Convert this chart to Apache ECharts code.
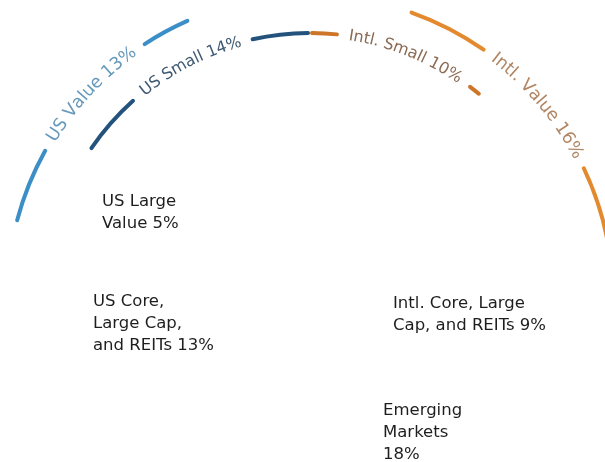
<!DOCTYPE html>
<html>
<head>
<meta charset="utf-8">
<script src="https://cdn.jsdelivr.net/npm/echarts@6/dist/echarts.min.js"></script>
<style>
  html, body { margin: 0; background: #fff; }
  #main { width: 605px; height: 462px; }
</style>
</head>
<body>
<div id="main"></div>
<script>
// outer ring segments, % of portfolio
const ringNames = ['US Value', 'US Small', 'Intl. Small', 'Intl. Value'];
const ringValues = [13, 14, 10, 16];
// holdings written as plain labels inside the ring
const coreNames = ['US Large\nValue', 'US Core,\nLarge Cap,\nand REITs', 'Intl. Core, Large\nCap, and REITs', 'Emerging\nMarkets'];
const coreValues = [5, 13, 9, 18];

// layout / style
const CX = 310, CY = 298;
const DEG_PER_PCT = 4;
const FONT = '"DejaVu Sans"';
const rings = [
  { r: 303, start: 165.5, textAt: 137, line: '#3b8ec6', text: '#6699bb', size: 17.5 },
  { r: 265, start: 146, textAt: 117.2, line: '#23527c', text: '#405a74', size: 16 },
  { r: 265, start: 90, textAt: 68.5, line: '#cd7529', text: '#8c6b53', size: 16 },
  { r: 303, start: 70.8, textAt: 40.2, line: '#e38a2e', text: '#b08664', size: 17.5 }
];
const corePos = [[102, 191], [93, 291], [393, 293], [383, 400]];
const coreSep = [' ', ' ', ' ', '\n'];

const ctx = document.createElement('canvas').getContext('2d');
function charWidths(str, size) {
  ctx.font = size + 'px ' + FONT;
  return str.split('').map(c => ctx.measureText(c).width);
}
const toDeg = (px, r) => px / r * 180 / Math.PI;
const clear = 'rgba(0,0,0,0)';

let series = [];
ringNames.forEach((name, i) => {
  let g = rings[i];
  let text = name + ' ' + ringValues[i] + '%';
  let widths = charWidths(text, g.size);
  let textDeg = toDeg(widths.reduce((a, b) => a + b, 0), g.r);
  let total = ringValues[i] * DEG_PER_PCT;
  let gap = textDeg + toDeg(20, g.r);
  let sideA = g.start - (g.textAt + gap / 2);
  let sideB = total - sideA - gap;

  // the arc itself, broken where its label sits
  series.push({
    type: 'pie', silent: true, animation: false,
    center: [CX, CY], radius: [g.r - 2, g.r + 2],
    startAngle: g.start,
    label: { show: false }, labelLine: { show: false },
    itemStyle: { borderRadius: 2, borderWidth: 0 },
    data: [
      { value: sideA, itemStyle: { color: g.line } },
      { value: gap, itemStyle: { color: clear } },
      { value: sideB, itemStyle: { color: g.line } },
      { value: 360 - total, itemStyle: { color: clear } }
    ]
  });

  // label: one slice per letter so the text bends with the arc
  let letters = text.split('').map((c, k) => ({ name: c, value: toDeg(widths[k], g.r) }));
  letters.push({ name: '', value: 360 - textDeg, label: { show: false } });
  series.push({
    type: 'pie', silent: true, animation: false, avoidLabelOverlap: false,
    center: [CX, CY], radius: [g.r - 13, g.r + 7],
    startAngle: g.textAt + textDeg / 2,
    itemStyle: { color: clear, borderWidth: 0 },
    label: {
      show: true, position: 'inside', rotate: 'tangential',
      color: g.text, fontSize: g.size, fontFamily: FONT,
      formatter: p => p.name
    },
    labelLine: { show: false },
    labelLayout: { hideOverlap: false },
    data: letters
  });
});

let chart = echarts.init(document.getElementById('main'));
chart.setOption({
  backgroundColor: '#ffffff',
  animation: false,
  series: series,
  graphic: coreNames.map((n, i) => ({
    type: 'text', left: corePos[i][0], top: corePos[i][1], silent: true,
    style: {
      text: n + coreSep[i] + coreValues[i] + '%',
      fill: '#1e1e1e', fontSize: 16.5, fontFamily: FONT, lineHeight: 22
    }
  }))
});
</script>
</body>
</html>
